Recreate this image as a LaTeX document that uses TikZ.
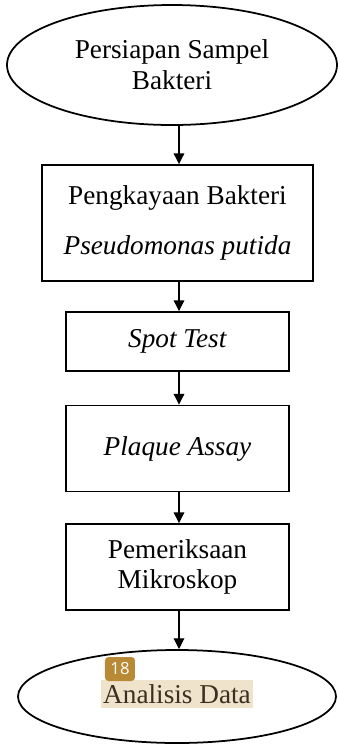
\documentclass[tikz,border=0pt]{standalone}
\usepackage{fontspec}
\setmainfont{Liberation Serif}
\newfontfamily\badgefont{Open Sans}
\usetikzlibrary{shapes.geometric,arrows.meta}
\definecolor{badgebrown}{HTML}{B98A36}
\definecolor{notehighlight}{HTML}{EFE3CB}
\definecolor{notetext}{HTML}{3B3020}

\begin{document}
\begin{tikzpicture}[
    font=\fontsize{15.5}{17.5}\selectfont,
    terminal/.style={ellipse,draw,line width=1pt,inner sep=0pt,align=center},
    process/.style={rectangle,draw,line width=1.1pt,inner sep=0pt,align=center},
    flow/.style={-{Triangle[width=6pt,length=6pt]},line width=0.6pt}]
  \useasboundingbox (0,0) rectangle (6.76,-14.88);
  % start and process steps
  \node[terminal,minimum width=6.6cm,minimum height=2.4cm] (prep) at (3.44,-1.30)
    {Persiapan Sampel\\Bakteri};
  \node[process,minimum width=5.42cm,minimum height=2.32cm] (enrich) at (3.55,-4.46)
    {Pengkayaan Bakteri\\[11pt]\textit{Pseudomonas putida}};
  \node[process,minimum width=4.46cm,minimum height=1.18cm] (spot) at (3.55,-6.83)
    {\textit{Spot Test}};
  \node[process,minimum width=4.46cm,minimum height=1.72cm] (plaque) at (3.55,-8.97)
    {\textit{Plaque Assay}};
  \node[process,minimum width=4.46cm,minimum height=1.72cm] (micro) at (3.55,-11.34)
    {Pemeriksaan\\Mikroskop};
  % end
  \node[terminal,minimum width=6.36cm,minimum height=1.86cm] (data) at (3.54,-13.93) {};
  \node[text=notetext,fill=notehighlight,inner xsep=1pt,inner ysep=0pt,
        minimum height=0.56cm] (datatext) at (3.54,-13.88) {Analisis Data};
  \node[fill=badgebrown,rounded corners=2pt,text=white,minimum width=0.6cm,
        minimum height=0.48cm,inner sep=0pt,font=\badgefont\fontsize{9.5}{10}\selectfont]
    (badge) at (2.40,-13.38) {18};
  % arrows
  \coordinate (dataTop) at (3.58,-12.98);
  \draw[flow] (prep.south -| dataTop) -- (enrich.north -| dataTop);
  \draw[flow] (enrich.south -| dataTop) -- (spot.north -| dataTop);
  \draw[flow] (spot.south -| dataTop) -- (plaque.north -| dataTop);
  \draw[flow] (plaque.south -| dataTop) -- (micro.north -| dataTop);
  \draw[flow] (micro.south -| dataTop) -- (dataTop);
\end{tikzpicture}
\end{document}
